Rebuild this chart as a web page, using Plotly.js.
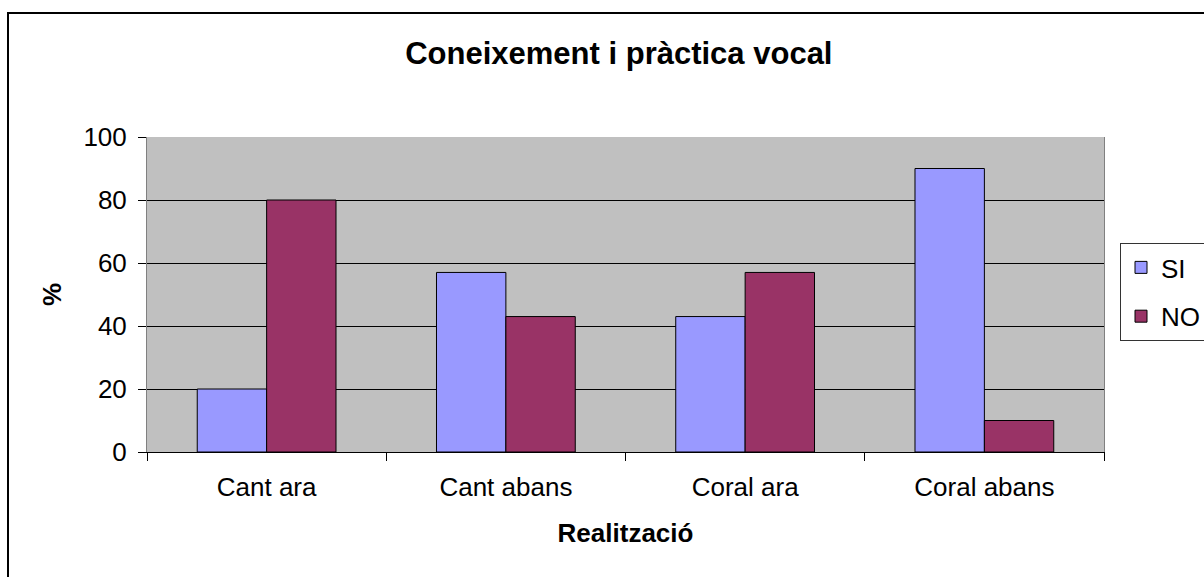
<!DOCTYPE html>
<html><head><meta charset="utf-8">
<script src="https://cdn.plot.ly/plotly-3.0.1.min.js"></script>
<style>
html,body{margin:0;padding:0;background:#fff;overflow:hidden;}
#frame{position:absolute;left:7px;top:12px;width:1300px;height:700px;border:2px solid #000;pointer-events:none;z-index:10;}
#chart{position:absolute;left:0;top:0;width:1204px;height:577px;}
</style></head>
<body>
<div id="chart"></div>
<div id="frame"></div>
<script>
const categories = ["Cant ara", "Cant abans", "Coral ara", "Coral abans"];
const siValues = [20, 57, 43, 90];
const noValues = [80, 43, 57, 10];
const yTicks = [0, 20, 40, 60, 80, 100];

const font = "Liberation Sans, Arial, sans-serif";
const data = [
  {type:"bar", name:"SI", x:categories, y:siValues, legendgroup:"a",
   marker:{color:"#9999FF", line:{color:"#000", width:1}}},
  {type:"bar", name:"NO", x:categories, y:noValues, legendgroup:"b",
   marker:{color:"#993366", line:{color:"#000", width:1}}}
];
const layout = {
  width:1204, height:577,
  margin:{l:147, r:100, t:137, b:125, autoexpand:false},
  paper_bgcolor:"#fff", plot_bgcolor:"#C0C0C0",
  font:{family:font, size:26, color:"#000"},
  barmode:"group", bargap:0.42, bargroupgap:0,
  showlegend:true,
  title:{text:"<b>Coneixement i pràctica vocal</b>", font:{size:31, family:font},
         x:0.514, xanchor:"center", y:1-53/577, yanchor:"middle", yref:"container"},
  xaxis:{type:"category", tickson:"boundaries", ticks:"outside", ticklen:8, tickcolor:"#000",
         showline:true, linecolor:"#000", mirror:false, showgrid:false,
         tickfont:{size:26}, ticklabelstandoff:12,
         title:{text:"<b>Realització</b>", font:{size:26}, standoff:22}},
  yaxis:{range:[0,100], tickvals:yTicks, ticks:"outside", ticklen:8, tickcolor:"#000",
         showline:true, linecolor:"#808080", mirror:true, gridcolor:"#000", gridwidth:1,
         zeroline:false, tickfont:{size:26}, ticklabelstandoff:6,
         title:{text:"<b>%</b>", font:{size:26}, standoff:14}},
  legend:{x:(1120-147)/957, xanchor:"left", y:0.508, yanchor:"middle",
          bgcolor:"#fff", bordercolor:"#333", borderwidth:1,
          font:{size:26}, tracegroupgap:12, itemwidth:30}
};
Plotly.newPlot("chart", data, layout, {displayModeBar:false, staticPlot:true});
</script>
</body></html>
